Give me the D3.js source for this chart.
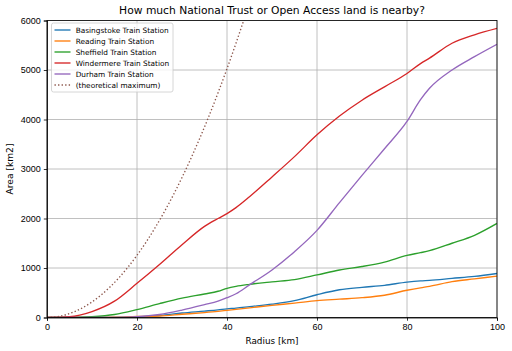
<!DOCTYPE html>
<html>
<head>
<meta charset="utf-8">
<script src="https://cdn.jsdelivr.net/npm/d3@7"></script>
<style>
  body { margin: 0; background: #fff; }
  svg { font-family: "DejaVu Sans", sans-serif; }
  .grid line { stroke: #b0b0b0; stroke-width: 0.8; }
  .axis path, .axis line { stroke: #000; stroke-width: 0.8; }
  .axis text { fill: #000; font-size: 9px; }
</style>
</head>
<body>
<div id="chart"></div>
<script>
// Radius samples (km) shared by the station series
const radius = [0, 5, 10, 15, 20, 25, 30, 35, 38, 40, 42, 45, 50, 55, 60, 65, 70, 75, 80, 83, 85, 90, 95, 100];

const basingstoke = [0, 0, 0, 2, 10, 40, 90, 130, 155, 175, 190, 220, 270, 340, 460, 560, 610, 650, 715, 740, 750, 790, 830, 890];
const reading     = [0, 0, 0, 5, 20, 30, 65, 100, 125, 145, 165, 195, 245, 290, 340, 370, 400, 450, 550, 600, 630, 725, 780, 835];
const sheffield   = [0, 0, 15, 60, 160, 280, 390, 475, 530, 590, 630, 670, 720, 765, 860, 960, 1030, 1120, 1255, 1310, 1350, 1500, 1660, 1900];
const windermere  = [0, 15, 120, 330, 690, 1070, 1470, 1840, 2000, 2100, 2220, 2440, 2840, 3250, 3690, 4070, 4390, 4660, 4930, 5130, 5240, 5540, 5710, 5840];
const durham      = [0, 0, 0, 2, 15, 60, 150, 260, 330, 400, 480, 660, 960, 1330, 1760, 2320, 2870, 3410, 3960, 4400, 4630, 5000, 5270, 5520];

// theoretical maximum (area of a circle of that radius)
const maxRadius = [0, 2, 4, 6, 8, 10, 12, 14, 16, 18, 20, 22, 24, 26, 28, 30, 32, 34, 36, 38, 40, 42, 44];
const maxArea   = [0, 12.6, 50.3, 113.1, 201.1, 314.2, 452.4, 615.8, 804.2, 1017.9, 1256.6, 1520.5, 1809.6,
                   2123.7, 2463.0, 2827.4, 3217.0, 3631.7, 4071.5, 4536.5, 5026.5, 5541.8, 6082.1];

const seriesNames  = ["Basingstoke Train Station", "Reading Train Station", "Sheffield Train Station",
                      "Windermere Train Station", "Durham Train Station", "(theoretical maximum)"];
const seriesColors = ["#1f77b4", "#ff7f0e", "#2ca02c", "#d62728", "#9467bd", "#8c564b"];

const xTicks = [0, 20, 40, 60, 80, 100];
const yTicks = [0, 1000, 2000, 3000, 4000, 5000, 6000];

const width = 512, height = 351;
const margin = { top: 20.5, right: 15, bottom: 33.5, left: 47 };

const svg = d3.select('#chart').append('svg')
    .attr('width', width)
    .attr('height', height);

// scale a text's font so it spans the width measured on the reference
function fitWidth(sel, target) {
    const size = parseFloat(sel.style('font-size'));
    const w = sel.node().getComputedTextLength();
    sel.style('font-size', (size * target / w).toFixed(2) + 'px');
}

const x = d3.scaleLinear().domain([0, 100]).range([margin.left, width - margin.right]);
const y = d3.scaleLinear().domain([0, 6000]).range([height - margin.bottom, margin.top]);

svg.append('defs').append('clipPath').attr('id', 'plot')
  .append('rect')
    .attr('x', x(0)).attr('y', y(6000))
    .attr('width', x(100) - x(0)).attr('height', y(0) - y(6000));

// Grid
const grid = svg.append('g').attr('class', 'grid');
grid.selectAll('.gx').data(xTicks).enter().append('line')
    .attr('x1', d => x(d)).attr('x2', d => x(d))
    .attr('y1', y(0)).attr('y2', y(6000));
grid.selectAll('.gy').data(yTicks).enter().append('line')
    .attr('x1', x(0)).attr('x2', x(100))
    .attr('y1', d => y(d)).attr('y2', d => y(d));

// Lines
const line = d3.line()
    .x(d => x(d[0]))
    .y(d => y(d[1]))
    .curve(d3.curveMonotoneX);

const stations = [basingstoke, reading, sheffield, windermere, durham];
const plot = svg.append('g').attr('clip-path', 'url(#plot)');

stations.forEach((vals, i) => {
    plot.append('path')
        .datum(radius.map((r, j) => [r, vals[j]]))
        .attr('fill', 'none')
        .attr('stroke', seriesColors[i])
        .attr('stroke-width', 1.35)
        .attr('d', line);
});

plot.append('path')
    .datum(maxRadius.map((r, j) => [r, maxArea[j]]))
    .attr('fill', 'none')
    .attr('stroke', seriesColors[5])
    .attr('stroke-width', 1.35)
    .attr('stroke-dasharray', '1.35,2.2')
    .attr('d', line);

// Axes
svg.append('g')
    .attr('class', 'axis')
    .attr('transform', `translate(0,${y(0)})`)
    .call(d3.axisBottom(x).tickValues(xTicks).tickSize(3.2).tickPadding(3));

svg.append('g')
    .attr('class', 'axis')
    .attr('transform', `translate(${x(0)},0)`)
    .call(d3.axisLeft(y).tickValues(yTicks).tickFormat(d3.format('d')).tickSize(3.2).tickPadding(3));

// frame
svg.append('rect')
    .attr('x', x(0)).attr('y', y(6000))
    .attr('width', x(100) - x(0)).attr('height', y(0) - y(6000))
    .attr('fill', 'none').attr('stroke', '#000').attr('stroke-width', 0.8);

// Labels
const title = svg.append('text')
    .attr('x', (x(0) + x(100)) / 2).attr('y', 14)
    .attr('text-anchor', 'middle')
    .style('font-size', '11px')
    .text('How much National Trust or Open Access land is nearby?');
fitWidth(title, 306);

const xLabel = svg.append('text')
    .attr('x', (x(0) + x(100)) / 2).attr('y', 344)
    .attr('text-anchor', 'middle')
    .style('font-size', '9px')
    .text('Radius [km]');
fitWidth(xLabel, 53);

const yLabel = svg.append('text')
    .attr('transform', `translate(13,${(y(0) + y(6000)) / 2}) rotate(-90)`)
    .attr('text-anchor', 'middle')
    .style('font-size', '9px')
    .text('Area [km2]');
fitWidth(yLabel, 51);

// Legend
const legend = svg.append('g').attr('transform', 'translate(51.5,23)');
legend.append('rect')
    .attr('width', 121.5).attr('height', 69)
    .attr('rx', 2)
    .attr('fill', '#fff').attr('fill-opacity', 0.8)
    .attr('stroke', '#cccccc').attr('stroke-width', 0.8);

const items = legend.selectAll('.item').data(seriesNames).enter().append('g')
    .attr('transform', (d, i) => `translate(0,${7 + i * 11})`);

items.append('line')
    .attr('x1', 3).attr('x2', 19)
    .attr('stroke', (d, i) => seriesColors[i])
    .attr('stroke-width', 1.35)
    .attr('stroke-dasharray', (d, i) => i === 5 ? '1.35,2.2' : null);

const labels = items.append('text')
    .attr('x', 24.2).attr('dy', '0.35em')
    .style('font-size', '8px')
    .text(d => d);

// "Basingstoke Train Station" spans about 93px on the reference
const legendSize = 8 * 93 / labels.node().getComputedTextLength();
labels.style('font-size', legendSize.toFixed(2) + 'px');
</script>
</body>
</html>
